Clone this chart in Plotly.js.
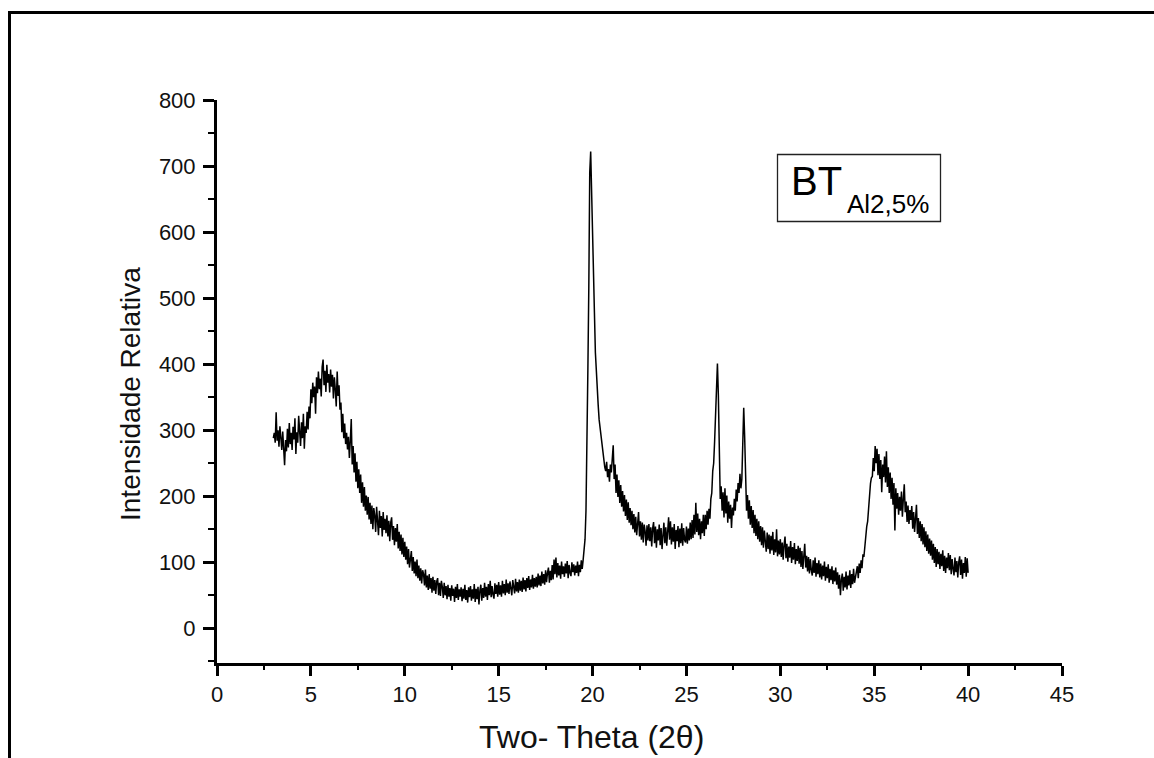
<!DOCTYPE html>
<html>
<head>
<meta charset="utf-8">
<script src="https://cdn.plot.ly/plotly-3.0.1.min.js"></script>
<style>html,body{margin:0;padding:0;background:#fff;}#chart{width:1154px;height:758px;}</style>
</head>
<body>
<div id="chart"></div>
<script>
// Sampling grid of the diffractogram (degrees 2θ)
const startAngle = 3.0;
const stepAngle = 0.05;

// Intensity, one row per degree (20 samples each)
const intensity = [
  288,296,281,327,284,300,275,306,289,270,298,262,247,285,268,302,274,311,279,296, // 3
  270,305,286,318,264,297,281,322,290,276,312,288,325,272,306,296,328,301,336,318, // 4
  362,341,372,350,366,325,380,356,389,362,378,351,396,407,368,390,358,399,372,385, // 5
  357,392,366,384,348,380,362,336,389,352,368,331,342,297,325,288,310,279,296,271, // 6
  290,258,284,317,248,276,236,265,222,252,212,241,205,233,190,221,184,214,178,201, // 7
  172,199,165,190,158,186,150,182,171,146,184,158,141,178,152,170,139,176,149,166, // 8
  144,171,139,163,132,160,168,134,155,126,152,131,158,121,146,117,142,112,137,108, // 9
  131,104,124,97,120,92,112,117,87,108,83,101,79,104,76,95,72,91,68,88,              // 10
  82,65,89,62,80,58,82,60,76,54,78,57,73,52,71,76,50,69,49,72,                       // 11
  63,46,69,50,64,44,66,48,61,42,65,49,60,40,63,46,67,43,59,48,                       // 12
  62,41,60,45,66,43,58,39,62,47,64,42,59,45,67,40,60,44,63,36,                       // 13
  57,66,42,61,46,69,48,63,43,67,50,72,47,64,51,45,68,52,66,48,                       // 14
  70,51,65,48,72,53,67,50,74,54,68,52,71,55,50,73,57,53,75,56,                       // 15
  70,54,74,57,72,55,77,59,73,56,76,61,79,58,74,62,81,60,76,63,                       // 16
  78,62,83,65,80,64,86,68,82,66,88,70,84,92,69,87,73,96,74,104,                      // 17
  82,107,77,99,80,95,75,101,82,94,78,98,83,102,76,96,84,79,100,85,                   // 18
  97,80,95,84,101,79,96,85,103,90,104,116,135,178,262,390,515,690,722,648,           // 19
  598,540,478,418,386,357,338,316,304,288,279,262,256,244,238,252,229,241,222,248,   // 20
  236,262,277,226,248,205,233,199,224,190,217,184,208,177,202,170,195,164,191,160,   // 21
  182,156,178,150,173,145,169,141,167,176,139,162,134,160,130,157,147,125,156,133,   // 22
  158,132,153,124,151,161,129,154,122,150,133,157,126,152,120,148,160,129,153,125,   // 23
  156,168,134,162,127,153,131,158,120,149,132,155,123,151,129,159,125,152,134,130,   // 24
  154,128,151,133,160,135,164,137,172,142,190,146,174,141,166,135,162,144,172,140,   // 25
  172,150,178,157,181,166,196,205,238,250,283,330,370,401,352,258,196,215,178,206,   // 26
  168,212,174,201,160,192,166,187,152,183,171,196,178,210,192,220,205,234,212,226,   // 27
  265,334,290,215,178,202,166,194,157,185,152,179,144,172,140,166,135,162,131,155,   // 28
  126,153,122,148,129,116,145,120,142,113,140,118,146,111,135,115,150,109,133,112,   // 29
  135,108,130,104,127,139,106,128,101,124,107,132,99,123,104,129,97,120,102,125,     // 30
  98,122,93,117,90,113,128,92,110,86,108,83,105,88,80,103,84,107,78,99,              // 31
  82,103,77,98,74,95,79,101,72,93,76,97,69,90,73,94,67,88,71,92,                     // 32
  66,85,60,81,50,74,83,57,78,62,86,59,80,65,88,61,82,67,90,69,                       // 33
  78,81,94,76,98,84,103,91,112,108,125,129,154,162,186,197,219,228,230,258,          // 34
  238,276,250,272,232,264,226,255,206,248,229,260,221,268,214,244,205,236,196,228,   // 35
  187,220,148,212,181,205,172,199,178,207,169,196,218,176,192,161,186,158,179,164,   // 36
  185,151,176,146,172,187,143,167,137,162,132,158,127,153,123,147,117,142,113,136,   // 37
  110,133,104,128,99,123,93,120,97,116,90,113,94,118,87,110,84,107,91,114,           // 38
  88,111,82,105,90,80,107,85,102,77,100,109,81,104,75,99,84,108,78,106,              // 39
  84                                                                                  // 40
];

const twoTheta = intensity.map((_, i) => +(startAngle + i * stepAngle).toFixed(2));

// Axis scales and labels
const xRange = [0, 45];
const yRange = [-52.5, 800];
const xTitle = 'Two- Theta (2θ)';
const yTitle = 'Intensidade Relativa';
const sampleMain = 'BT';
const sampleSub = 'Al2,5%';

// Page geometry (pixels)
const W = 1154, H = 758;
const mL = 217, mR = 92, mT = 100, mB = 95;
const pw = W - mL - mR, ph = H - mT - mB;
const px = x => (x - mL) / pw;
const py = y => (H - mB - y) / ph;

const FONT = 'Arial, "Liberation Sans", sans-serif';

const trace = {
  x: twoTheta,
  y: intensity,
  type: 'scatter',
  mode: 'lines',
  line: {color: '#000', width: 1.5},
  hoverinfo: 'skip'
};

const layout = {
  width: W, height: H,
  margin: {l: mL, r: mR, t: mT, b: mB, pad: 0},
  paper_bgcolor: '#fff',
  plot_bgcolor: '#fff',
  showlegend: false,
  font: {family: FONT, color: '#000'},
  xaxis: {
    range: xRange, tick0: 0, dtick: 5,
    showgrid: false, zeroline: false,
    showline: true, linecolor: '#000', linewidth: 3,
    ticks: 'outside', ticklen: 10, tickwidth: 3, tickcolor: '#000',
    minor: {dtick: 2.5, ticks: 'outside', ticklen: 4, tickwidth: 2, tickcolor: '#000', showgrid: false},
    tickfont: {family: FONT, size: 22, color: '#111'},
    fixedrange: true
  },
  yaxis: {
    range: yRange, tick0: 0, dtick: 100,
    showgrid: false, zeroline: false,
    showline: true, linecolor: '#000', linewidth: 3,
    ticks: 'outside', ticklen: 11, tickwidth: 3, tickcolor: '#000',
    minor: {dtick: 50, ticks: 'outside', ticklen: 6, tickwidth: 2, tickcolor: '#000', showgrid: false},
    tickfont: {family: FONT, size: 22, color: '#111'},
    ticklabelstandoff: 3,
    fixedrange: true
  },
  shapes: [
    // outer frame
    {type: 'line', xref: 'paper', yref: 'paper', x0: px(9.5), x1: px(9.5), y0: py(12.5), y1: py(800), line: {color: '#000', width: 3}},
    {type: 'line', xref: 'paper', yref: 'paper', x0: px(8), x1: px(1160), y0: py(12.5), y1: py(12.5), line: {color: '#000', width: 3}},
    // sample label box
    {type: 'rect', xref: 'paper', yref: 'paper', x0: px(777.5), x1: px(940.5), y0: py(154.5), y1: py(221.5), line: {color: '#222', width: 1.3}, fillcolor: 'rgba(0,0,0,0)'}
  ],
  annotations: [
    {text: xTitle, xref: 'paper', yref: 'paper', x: px(591), y: py(737), xanchor: 'center', yanchor: 'middle', showarrow: false, font: {family: FONT, size: 32, color: '#111'}},
    {text: yTitle, xref: 'paper', yref: 'paper', x: px(130), y: py(394), xanchor: 'center', yanchor: 'middle', textangle: -90, showarrow: false, font: {family: FONT, size: 28, color: '#111'}},
    {text: sampleMain, xref: 'paper', yref: 'paper', x: px(789), y: py(181), xanchor: 'left', yanchor: 'middle', showarrow: false, font: {family: FONT, size: 40, color: '#000'}},
    {text: sampleSub, xref: 'paper', yref: 'paper', x: px(845), y: py(204.5), xanchor: 'left', yanchor: 'middle', showarrow: false, font: {family: FONT, size: 26, color: '#000'}}
  ]
};

Plotly.newPlot('chart', [trace], layout, {staticPlot: true, displayModeBar: false});
</script>
</body>
</html>
